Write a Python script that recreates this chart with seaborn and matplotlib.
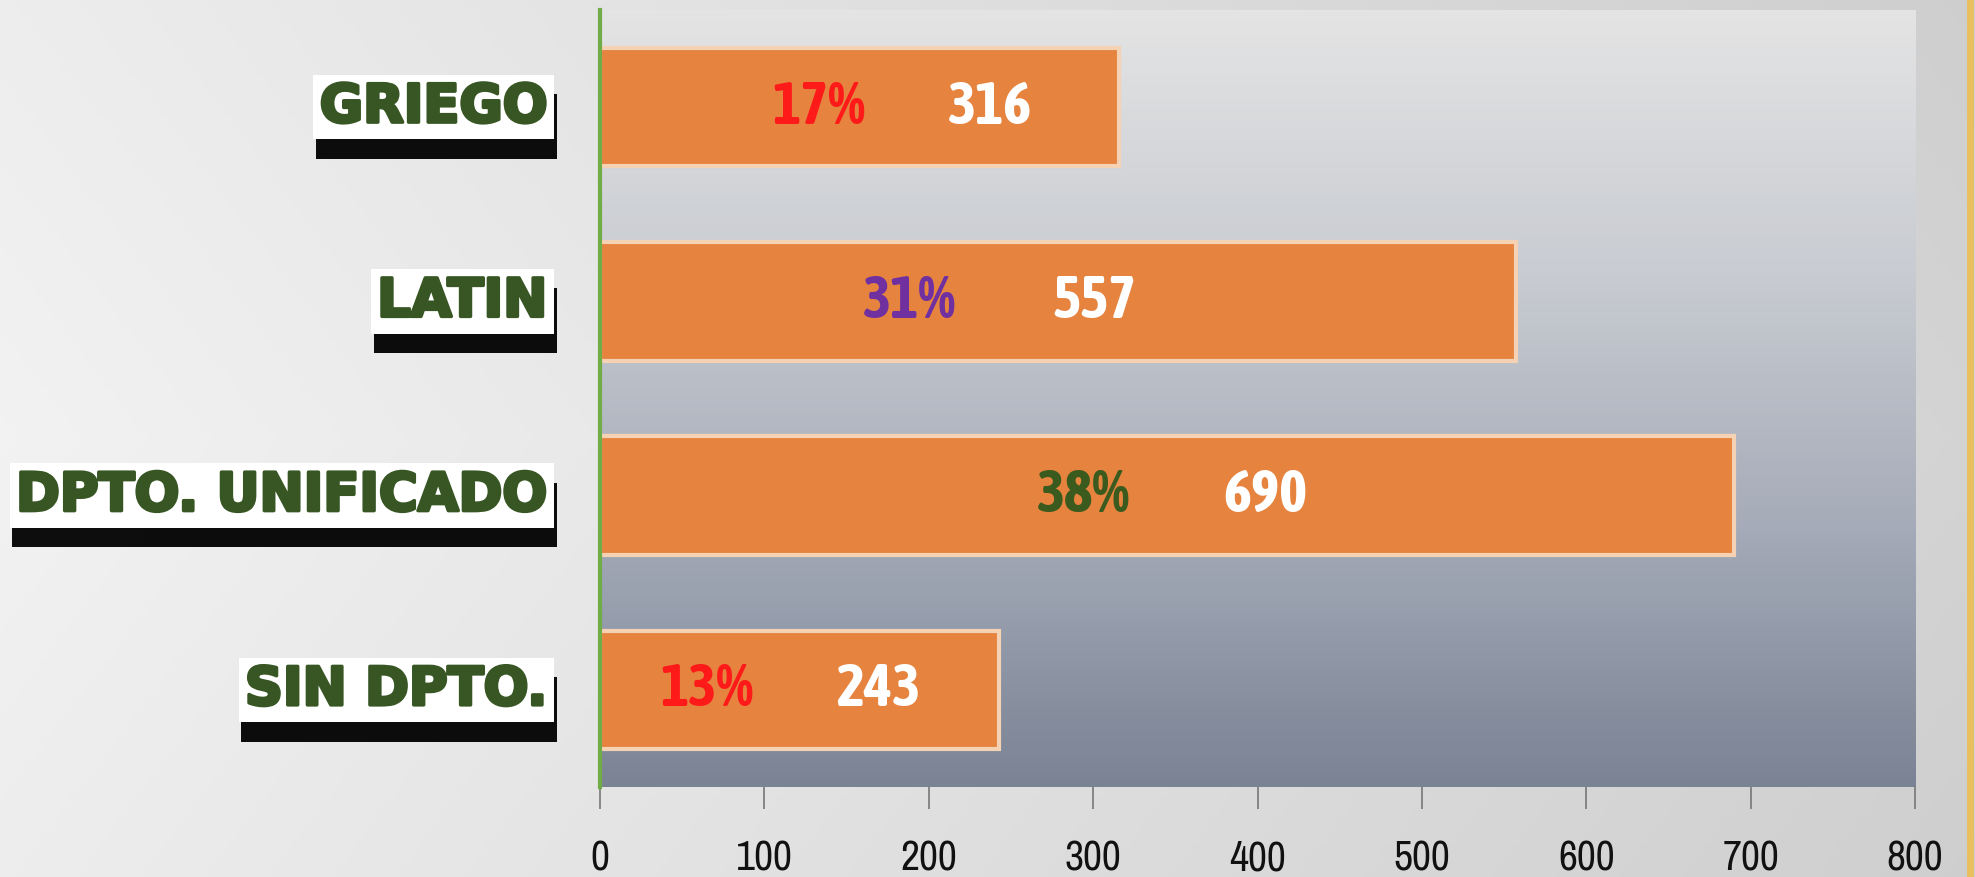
import numpy as np
import pandas as pd
import matplotlib
matplotlib.use("Agg")
import matplotlib.pyplot as plt
import matplotlib.patheffects as pe
from matplotlib.colors import LinearSegmentedColormap
from matplotlib import font_manager as fm
import seaborn as sns

# ---- data ----
categories = ["GRIEGO", "LATIN", "DPTO. UNIFICADO", "SIN DPTO."]
values = [316, 557, 690, 243]
percent_labels = ["17%", "31%", "38%", "13%"]
percent_colors = ["#ff1a1a", "#7030a0", "#3a5a1e", "#ff1a1a"]
pct_label_x = [133, 188, 294, 65]
val_label_x = [237, 301, 405, 169]
xticks = [0, 100, 200, 300, 400, 500, 600, 700, 800]

df = pd.DataFrame({"cat": categories, "val": values})

sns.set_theme(style="white")
names = {f.name for f in fm.fontManager.ttflist}
narrow = "Archivo Narrow" if "Archivo Narrow" in names else "DejaVu Sans"
cond_bold = "Asap Condensed" if "Asap Condensed" in names else narrow
plt.rcParams["font.family"] = ["DejaVu Sans"]

W, H, DPI = 1975, 877, 100
fig = plt.figure(figsize=(W / DPI, H / DPI), dpi=DPI)

# figure background gradient
bg = fig.add_axes([0, 0, 1, 1], zorder=-10)
gx = np.linspace(0, 1, 400)
gy = np.linspace(0, 1, 200)
GX, GY = np.meshgrid(gx, gy)
lum = 0.95 - 0.12 * GX - 0.04 * np.abs(GY - 0.5)
bg.imshow(np.dstack([lum, lum, lum]), extent=[0, 1, 0, 1], aspect="auto", origin="lower")
bg.axvline(0.9975, color="#e8c060", lw=5)
bg.set_xlim(0, 1); bg.set_ylim(0, 1)
bg.axis("off")

ax = fig.add_axes([600 / W, 1 - 787 / H, (1915 - 600) / W, (787 - 10) / H])

cmap = LinearSegmentedColormap.from_list("pa", ["#e4e4e4", "#c9ccd2", "#a5abb8", "#7a8394"])
grad = np.linspace(0, 1, 256).reshape(-1, 1)
ax.imshow(grad, cmap=cmap, extent=[0, 800, 3.5, -0.5], aspect="auto", zorder=0)

sns.barplot(data=df, x="val", y="cat", orient="h", color="#e5833f", saturation=1,
            width=0.61, edgecolor="#f6d2b4", linewidth=3, ax=ax, zorder=2)

ax.set_xlim(0, 800)
ax.set_ylim(3.5, -0.5)
ax.set_xlabel(""); ax.set_ylabel("")
ax.set_xticks(xticks)
ax.set_xticklabels([str(t) for t in xticks], fontfamily=narrow, fontsize=30, color="#111111")
ax.tick_params(axis="x", bottom=True, direction="out", length=16, width=1.2, color="#777777", pad=22)
ax.tick_params(axis="y", length=0)
ax.set_yticks(range(len(categories)))
ax.set_yticklabels([])
for s in ["top", "right", "bottom"]:
    ax.spines[s].set_visible(False)
ax.spines["left"].set_color("#70ad47")
ax.spines["left"].set_linewidth(3)
ax.spines["left"].set_zorder(5)

for i, c in enumerate(categories):
    t = ax.text(-0.04, i, c, transform=ax.get_yaxis_transform(), ha="right", va="center",
                fontsize=38, fontweight="bold", color="#375623",
                path_effects=[pe.withStroke(linewidth=2.5, foreground="#375623")],
                bbox=dict(boxstyle="square,pad=0.12", fc="white", ec="none"))
    t.get_bbox_patch().set_path_effects([
        pe.SimplePatchShadow(offset=(2, -14), shadow_rgbFace="black", alpha=0.95),
        pe.Normal()])
    t.set_clip_on(False)

for i in range(len(categories)):
    ax.text(pct_label_x[i], i, percent_labels[i], ha="center", va="center",
            fontfamily=cond_bold, fontweight="bold", fontsize=43, color=percent_colors[i], zorder=4)
    ax.text(val_label_x[i], i, str(values[i]), ha="center", va="center",
            fontfamily=cond_bold, fontweight="bold", fontsize=43, color="white", zorder=4)

fig.savefig("out.png", dpi=DPI)
